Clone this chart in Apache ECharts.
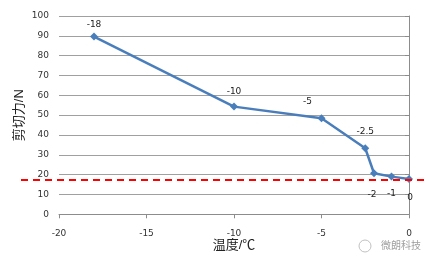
<!DOCTYPE html>
<html><head><meta charset="utf-8">
<script src="https://cdn.jsdelivr.net/npm/echarts@6/dist/echarts.min.js"></script>
<style>html,body{margin:0;padding:0;background:#fff}#c{width:434px;height:267px}</style>
</head><body><div id="c"></div>
<script>
var temps = [-18, -10, -5, -2.5, -2, -1, 0];
var forces = [89.6, 54.3, 48.4, 33.3, 20.7, 19.0, 17.8];
var pointLabels = ['-18', '-10', '-5', '-2.5', '-2', '-1', '0'];
var refValue = 17.3;
var xTicks = [-20, -15, -10, -5, 0];
var yName = '剪切力/N';
var xName = '温度/℃';
var watermark = '微朗科技';

var font = '"Liberation Sans","Noto Sans CJK SC",sans-serif';
var numFont = '"DejaVu Sans",sans-serif';
var labelCfg = [
  {position:'top', distance:3},
  {position:'top', distance:6},
  {position:'top', distance:8, offset:[-14,0]},
  {position:'top', distance:8},
  {position:'bottom', distance:13, offset:[-2,0]},
  {position:'bottom', distance:9},
  {position:'bottom', distance:10, offset:[1,0]}
];
var data = temps.map(function(t,i){
  return {value:[t, forces[i]], label:Object.assign({show:true, formatter:pointLabels[i]}, labelCfg[i])};
});

var chart = echarts.init(document.getElementById('c'), null, {renderer:'canvas'});
chart.setOption({
  animation:false,
  textStyle:{fontFamily:font},
  grid:[
    {left:59, right:25, top:16, bottom:52.7},
    {left:21, right:6, top:16, bottom:52.7}
  ],
  xAxis:[
    {gridIndex:0, type:'value', min:xTicks[0], max:xTicks[xTicks.length-1], interval:5,
     axisLine:{show:true, lineStyle:{color:'#8c8c8c'}},
     axisTick:{show:true, length:4, lineStyle:{color:'#8c8c8c'}},
     splitLine:{show:false},
     axisLabel:{color:'#333', fontSize:9, margin:15, fontFamily:numFont},
     name:xName, nameLocation:'middle', nameGap:25, nameMoveOverlap:false,
     nameTextStyle:{color:'#222', fontSize:13, fontFamily:font}},
    {gridIndex:1, type:'value', min:0, max:1, show:false}
  ],
  yAxis:[
    {gridIndex:0, type:'value', min:0, max:100, interval:10,
     axisLine:{show:true, lineStyle:{color:'#8c8c8c'}},
     axisTick:{show:true, length:4, lineStyle:{color:'#8c8c8c'}},
     splitLine:{show:true, lineStyle:{color:'#a0a0a0', width:1}},
     axisLabel:{color:'#333', fontSize:9, margin:10, fontFamily:numFont},
     name:yName, nameLocation:'middle', nameGap:33, nameRotate:90, nameMoveOverlap:false,
     nameTextStyle:{color:'#222', fontSize:13, fontFamily:font}},
    {gridIndex:1, type:'value', min:0, max:100, show:false}
  ],
  series:[
    {type:'line', xAxisIndex:1, yAxisIndex:1, data:[[0,refValue],[1,refValue]],
     symbol:'none', silent:true,
     lineStyle:{color:'#ff0000', width:2, type:[7,5]}, z:5},
    {type:'line', xAxisIndex:0, yAxisIndex:0, data:data,
     symbol:'diamond', symbolSize:8,
     lineStyle:{color:'#4a7ebb', width:2.5},
     itemStyle:{color:'#4a7ebb'},
     label:{color:'#222', fontSize:9, fontFamily:numFont}, z:3}
  ],
  graphic:[
    {type:'text', left:381, top:240,
     style:{text:watermark, fill:'#a0a0a0', font:'10px "Noto Sans CJK SC",sans-serif'}},
    {type:'circle', shape:{cx:365, cy:246, r:6}, style:{fill:'none', stroke:'#c0c0c0', lineWidth:1}}
  ]
});
</script></body></html>
